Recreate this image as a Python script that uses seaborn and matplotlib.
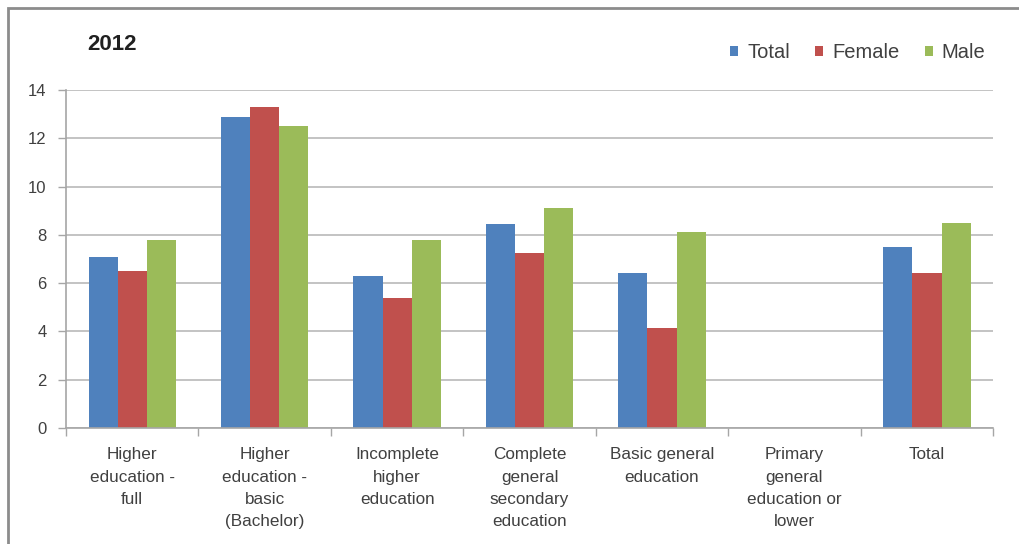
import numpy as np
import pandas as pd
import matplotlib
matplotlib.use('Agg')
import matplotlib.pyplot as plt
import matplotlib.patches as mpatches
import seaborn as sns

# data
categories = ['Higher\neducation -\nfull', 'Higher\neducation -\nbasic\n(Bachelor)',
              'Incomplete\nhigher\neducation', 'Complete\ngeneral\nsecondary\neducation',
              'Basic general\neducation', 'Primary\ngeneral\neducation or\nlower', 'Total']
total = [7.1, 12.9, 6.3, 8.45, 6.4, np.nan, 7.5]
female = [6.5, 13.3, 5.4, 7.25, 4.15, np.nan, 6.4]
male = [7.8, 12.5, 7.8, 9.1, 8.1, np.nan, 8.5]
series = ['Total', 'Female', 'Male']
colors = ['#4F81BD', '#C0504D', '#9BBB59']

df = pd.DataFrame({'cat': categories * 3,
                   'series': [s for s in series for _ in categories],
                   'value': total + female + male})

sns.set_style('white')
plt.rcParams['font.family'] = ['Liberation Sans', 'DejaVu Sans']
txt = '#404040'
grid_c = '#BEBEBE'

fig = plt.figure(figsize=(10.2, 5.44), dpi=100)
ax = fig.add_axes([0.0647, 0.2132, 0.909, 0.6214])

sns.barplot(data=df, x='cat', y='value', hue='series', order=categories,
            hue_order=series, palette=colors, width=0.66, gap=0,
            saturation=1, linewidth=0, ax=ax, legend=True)

ax.set_ylim(0, 14)
ax.set_yticks(range(0, 15, 2))
ax.set_xlim(-0.5, len(categories) - 0.5)
ax.yaxis.grid(True, color=grid_c, lw=1.3)
ax.set_axisbelow(True)
ax.set_xlabel('')
ax.set_ylabel('')

for s in ['top', 'right']:
    ax.spines[s].set_visible(False)
for s in ['left', 'bottom']:
    ax.spines[s].set_color('#A6A6A6')
    ax.spines[s].set_linewidth(1.2)

ax.tick_params(axis='y', length=6, width=1, color='#A6A6A6', labelsize=12,
               labelcolor=txt, pad=8, left=True)
ax.set_xticks(range(len(categories)))
ax.set_xticklabels(categories, fontsize=12.3, color=txt, linespacing=1.6, va='top')
ax.tick_params(axis='x', which='major', length=0, pad=14)
ax.set_xticks(np.arange(-0.5, len(categories), 1), minor=True)
ax.tick_params(axis='x', which='minor', length=6, width=1, color='#A6A6A6', bottom=True)

fig.text(0.086, 0.918, '2012', fontsize=16, fontweight='bold', color='#202020',
         ha='left', va='center')

leg = ax.legend(loc='center right', bbox_to_anchor=(0.984, 0.903),
                bbox_transform=fig.transFigure, ncol=3, frameon=False,
                fontsize=14.5, handlelength=0.4, handleheight=0.4,
                handletextpad=0.45, columnspacing=1.25, labelcolor=txt)

# chart border
fig.patches.append(mpatches.Rectangle((0.008, -0.1), 1.1, 1.085, transform=fig.transFigure,
                                      fill=False, edgecolor='#8C8C8C', lw=2))

fig.savefig('out.png', dpi=100)
